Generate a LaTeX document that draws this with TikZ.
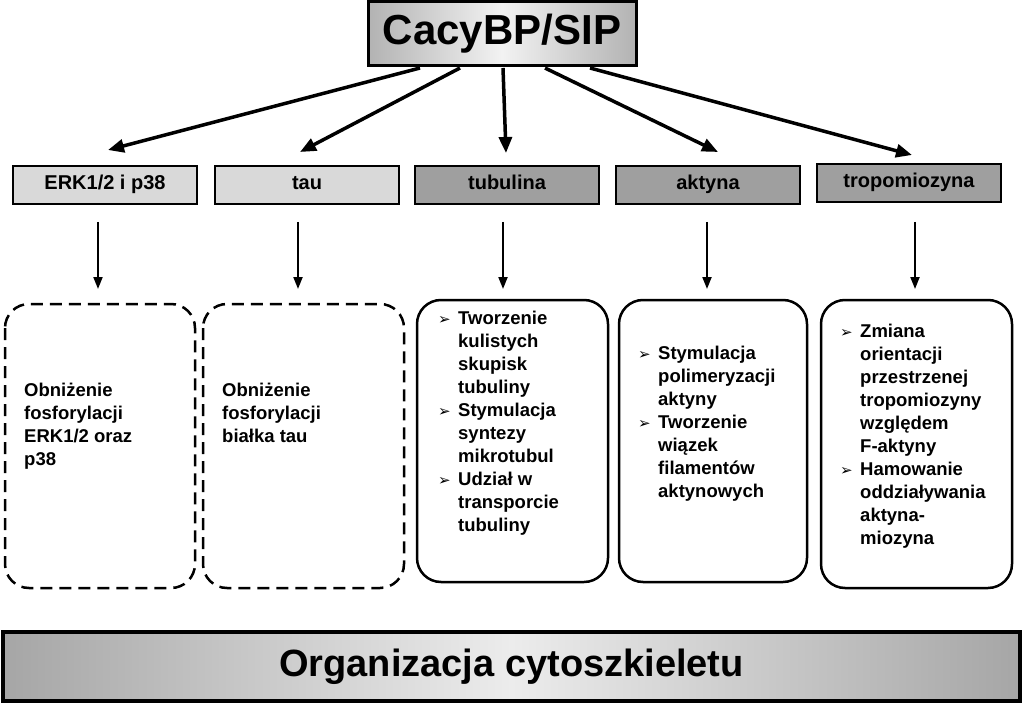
\documentclass[tikz,border=0pt]{standalone}
\usepackage{fontspec}
\setmainfont{Liberation Sans}
\newfontfamily\djfont{DejaVu Sans}
\usetikzlibrary{arrows.meta}
\newcommand{\bl}{\makebox[20pt][l]{{\djfont\fontsize{15}{15}\selectfont ➢}}}
\newcommand{\ind}{\hspace*{20pt}}
\begin{document}
\begin{tikzpicture}[x=1pt,y=-1pt,
 lvl/.style={draw,line width=2pt,minimum width=184pt,minimum height=38pt,text height=14pt,text depth=4pt,font=\bfseries\fontsize{20}{22}\selectfont,anchor=north west},
 light/.style={lvl,fill=gray!30},
 dark/.style={lvl,fill=gray!75},
 card/.style={draw,line width=2.5pt,rounded corners=24pt},
 txt/.style={anchor=north west,align=left,font=\bfseries\fontsize{18.5}{23}\selectfont,inner sep=0pt},
 arr/.style={-{Triangle[length=16pt,width=13pt]},line width=3.5pt},
 darr/.style={-{Triangle[length=12pt,width=9pt]},line width=2pt}]
\useasboundingbox (0,0) rectangle (1024,703);
\shade[left color=gray!60,right color=gray!60,middle color=gray!10] (368,2) rectangle (636,66);
\node[draw,line width=3pt,minimum width=268pt,minimum height=64pt,font=\bfseries\fontsize{42}{44}\selectfont] (top) at (502,34) {CacyBP/SIP};
\node[light] (b1) at (12,165) {ERK1/2 i p38};
\node[light] (b2) at (214,165) {tau};
\node[dark] (b3) at (414,165) {tubulina};
\node[dark] (b4) at (615,165) {aktyna};
\node[dark] (b5) at (816,163) {tropomiozyna};
\coordinate (o1) at (420,68);\coordinate (o2) at (460,68);\coordinate (o3) at (503,68);\coordinate (o4) at (545,68);\coordinate (o5) at (590,68);
\coordinate (e1) at (108,150);\coordinate (e2) at (300,152);\coordinate (e3) at (506,153);\coordinate (e4) at (718,152);\coordinate (e5) at (912,155);
\foreach \i in {1,...,5} \draw[arr] (o\i) -- (e\i);
\foreach \i/\x in {1/98,2/298,3/503,4/707,5/915} {\coordinate (s\i) at (\x,222); \coordinate (t\i) at (\x,289); \draw[darr] (s\i) -- (t\i);}
\draw[card,dashed,dash pattern=on 12pt off 7pt] (5,304) rectangle (195,588);
\draw[card,dashed,dash pattern=on 12pt off 7pt] (203,304) rectangle (404,588);
\draw[card] (417,300) rectangle (608,582);
\draw[card] (619,300) rectangle (807,582);
\draw[card] (821,300) rectangle (1012,588);
\node[txt] (c1) at (24,383) {Obniżenie\\fosforylacji\\ERK1/2 oraz\\p38};
\node[txt] (c2) at (222,383) {Obniżenie\\fosforylacji\\białka tau};
\node[txt] (c3) at (438,311) {\bl Tworzenie\\\ind kulistych\\\ind skupisk\\\ind tubuliny\\\bl Stymulacja\\\ind syntezy\\\ind mikrotubul\\\bl Udział w\\\ind transporcie\\\ind tubuliny};
\node[txt] (c4) at (638,346) {\bl Stymulacja\\\ind polimeryzacji\\\ind aktyny\\\bl Tworzenie\\\ind wiązek\\\ind filamentów\\\ind aktynowych};
\node[txt] (c5) at (840,324) {\bl Zmiana\\\ind orientacji\\\ind przestrzenej\\\ind tropomiozyny\\\ind względem\\\ind F-aktyny\\\bl Hamowanie\\\ind oddziaływania\\\ind aktyna-\\\ind miozyna};
\shade[left color=gray!70,right color=gray!70,middle color=gray!15] (3,632) rectangle (1020,701);
\node[draw,line width=4pt,minimum width=1017pt,minimum height=69pt,font=\bfseries\fontsize{38}{40}\selectfont] (bot) at (511.5,666.5) {Organizacja cytoszkieletu};
\end{tikzpicture}
\end{document}
